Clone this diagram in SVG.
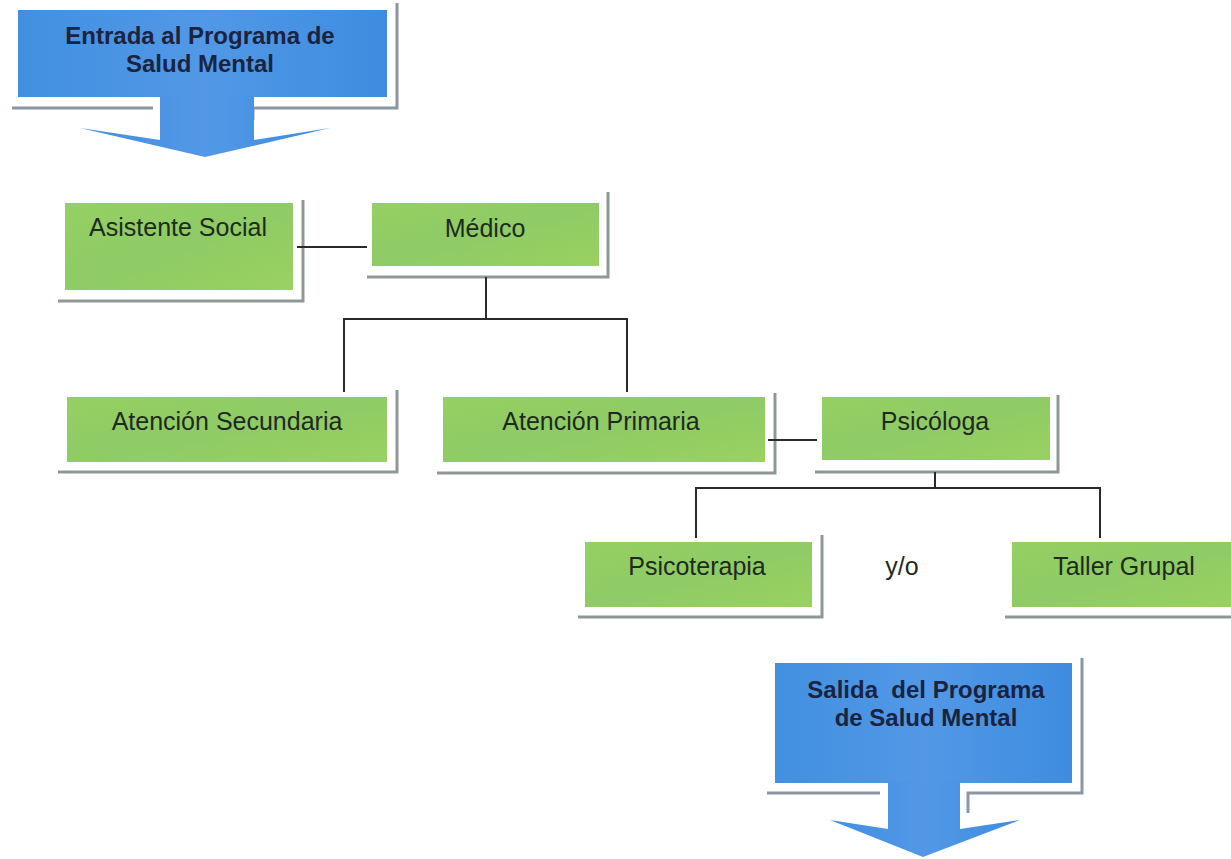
<svg xmlns="http://www.w3.org/2000/svg" width="1231" height="859" viewBox="0 0 1231 859">
<style>
.box{fill:url(#gg);}
.frame{fill:none;stroke:#8e9994;stroke-width:3;}
.bframe{fill:none;stroke:#8c95a3;stroke-width:3;}
.lbl{font-family:"Liberation Sans",Arial,sans-serif;font-size:25px;fill:#1f2a1f;text-anchor:middle;}
.blbl{font-family:"Liberation Sans",Arial,sans-serif;font-size:24px;font-weight:bold;fill:#1a2440;text-anchor:middle;}
.conn{fill:none;stroke:#2a2a2a;stroke-width:2;}
.blue{fill:url(#bg);}
</style>
<defs>
<linearGradient id="gg" x1="0" y1="0" x2="1" y2="1">
<stop offset="0" stop-color="#94d062"/>
<stop offset="0.5" stop-color="#8fcb66"/>
<stop offset="1" stop-color="#99d260"/>
</linearGradient>
<linearGradient id="bg" x1="0" y1="0" x2="1" y2="0">
<stop offset="0" stop-color="#428fe0"/>
<stop offset="0.5" stop-color="#5298e6"/>
<stop offset="1" stop-color="#3e8ce0"/>
</linearGradient>
</defs>
<rect width="1231" height="859" fill="#ffffff"/>

<g id="entrada">
<polyline class="bframe" points="397,3 397,108 253,108 253,120"/>
<line class="bframe" x1="12" y1="108" x2="153" y2="108"/>
<rect class="blue" x="18" y="10" width="369" height="87"/>
<polygon class="blue" points="160,96 160,140 80,128 205,157 330,128 254,140 254,96"/>
<text class="blbl" x="200" y="44">Entrada al Programa de</text>
<text class="blbl" x="200" y="72">Salud Mental</text>
</g>

<g id="asistente">
<polyline class="frame" points="303,200 303,301 58,301"/>
<rect class="box" x="65" y="203" width="228" height="87"/>
<text class="lbl" x="178" y="236">Asistente Social</text>
</g>

<g id="medico">
<polyline class="frame" points="608,192 608,277 367,277"/>
<rect class="box" x="372" y="203" width="227" height="63"/>
<text class="lbl" x="485" y="237">Médico</text>
</g>

<g id="secundaria">
<polyline class="frame" points="397,390 397,472 58,472"/>
<rect class="box" x="67" y="397" width="320" height="65"/>
<text class="lbl" x="227" y="430">Atención Secundaria</text>
</g>

<g id="primaria">
<polyline class="frame" points="775,393 775,473 437,473"/>
<rect class="box" x="443" y="397" width="322" height="65"/>
<text class="lbl" x="601" y="430">Atención Primaria</text>
</g>

<g id="psicologa">
<polyline class="frame" points="1058,395 1058,472 815,472"/>
<rect class="box" x="822" y="397" width="228" height="63"/>
<text class="lbl" x="935" y="430">Psicóloga</text>
</g>

<g id="psicoterapia">
<polyline class="frame" points="822,535 822,617 578,617"/>
<rect class="box" x="585" y="542" width="227" height="65"/>
<text class="lbl" x="697" y="575">Psicoterapia</text>
</g>

<g id="yo">
<text class="lbl" x="902" y="575">y/o</text>
</g>

<g id="taller">
<line class="frame" x1="1005" y1="617" x2="1231" y2="617"/>
<rect class="box" x="1012" y="542" width="225" height="65"/>
<text class="lbl" x="1124" y="575">Taller Grupal</text>
</g>

<g id="salida">
<polyline class="bframe" points="1082,658 1082,793 968,793 968,813"/>
<line class="bframe" x1="767" y1="793" x2="880" y2="793"/>
<rect class="blue" x="775" y="663" width="297" height="120"/>
<polygon class="blue" points="888,782 888,829 830,820 923,857 1020,820 960,829 960,782"/>
<text class="blbl" x="926" y="698" xml:space="preserve">Salida  del Programa</text>
<text class="blbl" x="926" y="726">de Salud Mental</text>
</g>

<g id="connectors">
<line class="conn" x1="297" y1="247" x2="367" y2="247"/>
<line class="conn" x1="486" y1="277" x2="486" y2="319"/>
<polyline class="conn" points="344,392 344,319 627,319 627,392"/>
<line class="conn" x1="768" y1="440" x2="817" y2="440"/>
<line class="conn" x1="935" y1="472" x2="935" y2="488"/>
<polyline class="conn" points="696,538 696,488 1100,488 1100,538"/>
</g>
</svg>
